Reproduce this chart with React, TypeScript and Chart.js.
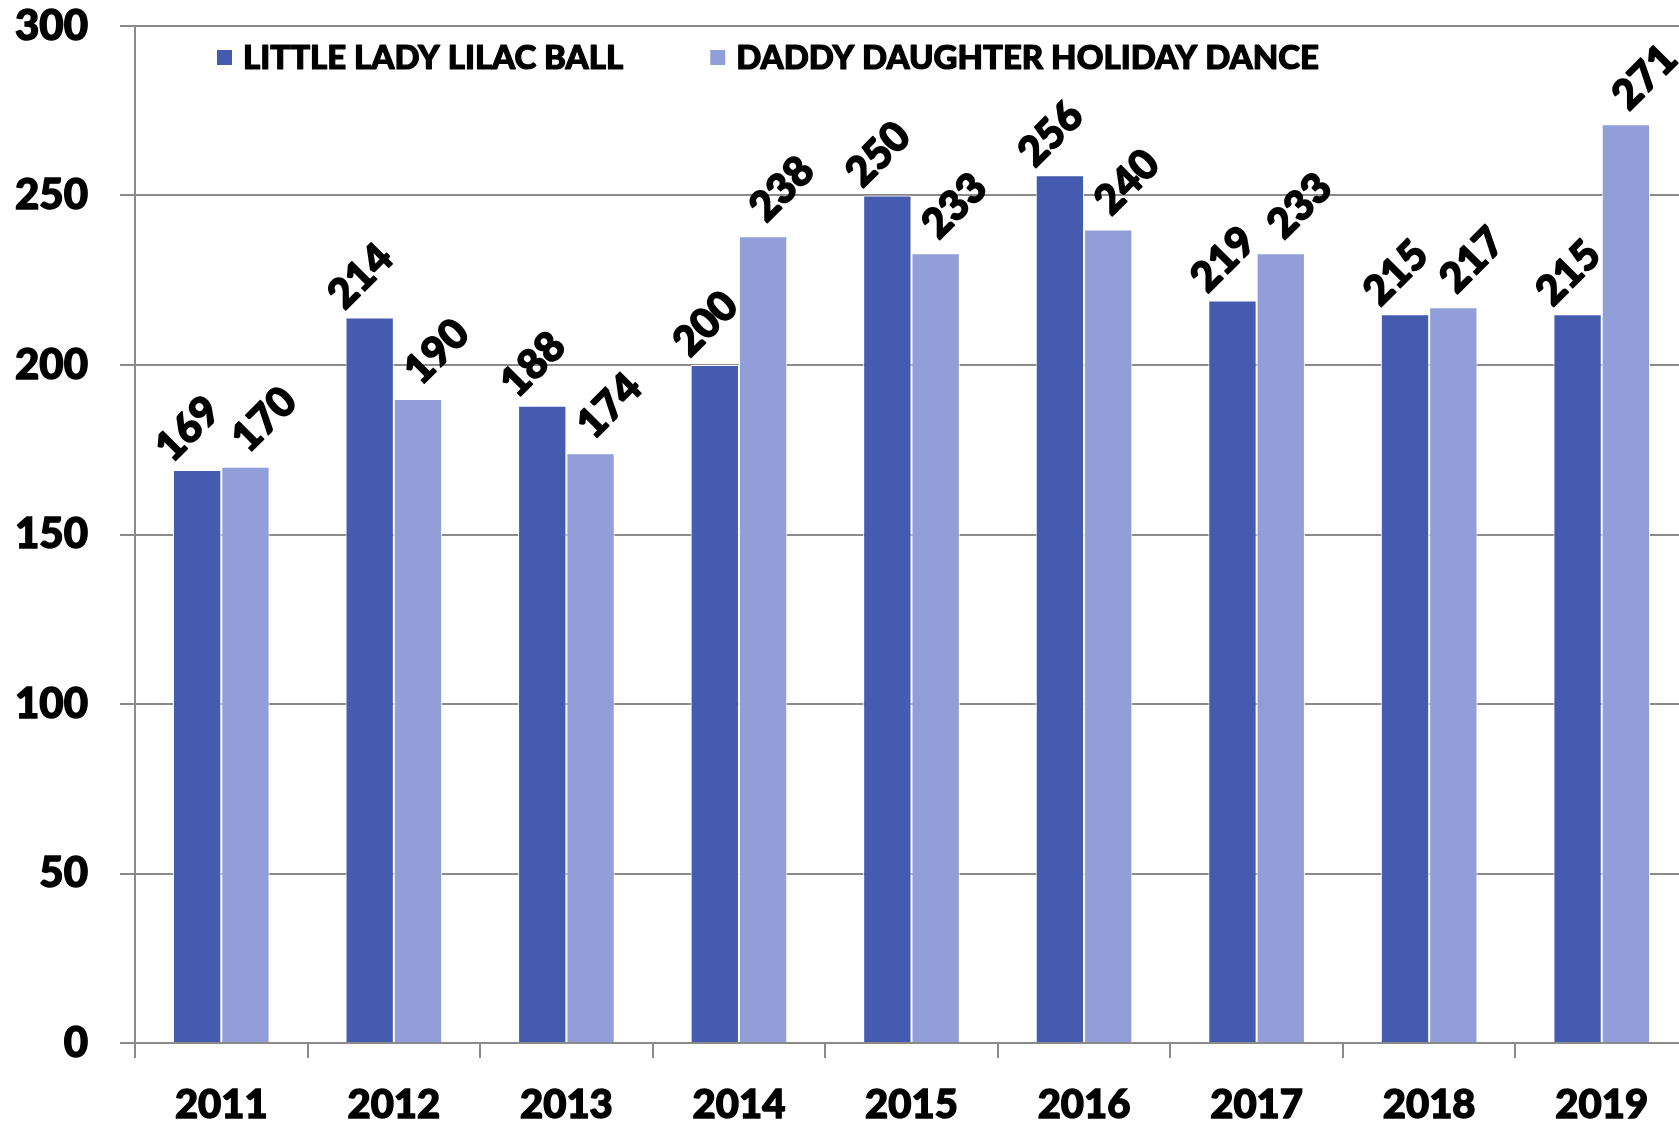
import React, { useEffect, useRef } from "react";
import { Chart, registerables } from "chart.js";

Chart.register(...registerables);

const years = ["2011", "2012", "2013", "2014", "2015", "2016", "2017", "2018", "2019"];
const lilacBall = [169, 214, 188, 200, 250, 256, 219, 215, 215];
const holidayDance = [170, 190, 174, 238, 233, 240, 233, 217, 271];
const seriesNames = ["LITTLE LADY LILAC BALL", "DADDY DAUGHTER HOLIDAY DANCE"];
const yMin = 0;
const yMax = 300;
const yStep = 50;

const DARK = "#455BAF";
const LIGHT = "#929ED8";
const GRID = "#8A8A8A";
const FONT = "Lato, 'Open Sans', sans-serif";

const labelOffsets = [
  { dx: -9, dy: -41 },
  { dx: 19, dy: -47 },
];

const valueLabelPlugin = {
  id: "valueLabels",
  afterDatasetsDraw(chart: any) {
    const ctx = chart.ctx;
    ctx.save();
    ctx.fillStyle = "#000";
    ctx.strokeStyle = "#000";
    ctx.lineWidth = 1.6;
    ctx.lineJoin = "round";
    ctx.font = `900 41px ${FONT}`;
    ctx.textAlign = "center";
    ctx.textBaseline = "middle";
    chart.data.datasets.forEach((ds: any, di: number) => {
      const meta = chart.getDatasetMeta(di);
      const off = labelOffsets[di] || { dx: 0, dy: -40 };
      meta.data.forEach((bar: any, i: number) => {
        const v = ds.data[i];
        ctx.save();
        ctx.translate(bar.x + off.dx, bar.y + off.dy);
        ctx.rotate(-Math.PI / 4);
        ctx.fillText(String(v), 0, 0);
        ctx.strokeText(String(v), 0, 0);
        ctx.restore();
      });
    });
    ctx.restore();
  },
};

const legendPlugin = {
  id: "insideLegend",
  afterDraw(chart: any) {
    const ctx = chart.ctx;
    const area = chart.chartArea;
    ctx.save();
    ctx.font = `900 33px ${FONT}`;
    ctx.textBaseline = "middle";
    ctx.textAlign = "left";
    ctx.lineWidth = 1.2;
    ctx.lineJoin = "round";
    let x = area.left + 82;
    const boxY = area.top + 24;
    const box = 15;
    chart.data.datasets.forEach((ds: any) => {
      ctx.fillStyle = ds.backgroundColor;
      ctx.fillRect(x, boxY, box, box);
      const tx = x + box + 11;
      ctx.fillStyle = "#000";
      ctx.strokeStyle = "#000";
      ctx.fillText(ds.label, tx, boxY + box / 2 + 1);
      ctx.strokeText(ds.label, tx, boxY + box / 2 + 1);
      x = tx + ctx.measureText(ds.label).width + 87;
    });
    ctx.restore();
  },
};

export default function App() {
  const ref = useRef<HTMLCanvasElement | null>(null);

  useEffect(() => {
    if (!ref.current) return;
    const chart = new Chart(ref.current, {
      type: "bar",
      data: {
        labels: years,
        datasets: [
          {
            label: seriesNames[0],
            data: lilacBall,
            backgroundColor: DARK,
            borderColor: "#FFFFFF",
            borderWidth: 1,
          },
          {
            label: seriesNames[1],
            data: holidayDance,
            backgroundColor: LIGHT,
            borderColor: "#FFFFFF",
            borderWidth: 1,
          },
        ],
      },
      options: {
        responsive: false,
        animation: false,
        devicePixelRatio: 1,
        layout: { padding: { top: 26, right: 2, left: 0, bottom: 0 } },
        datasets: {
          bar: { categoryPercentage: 0.56, barPercentage: 1 },
        },
        plugins: {
          legend: { display: false },
          tooltip: { enabled: false },
        },
        scales: {
          x: {
            grid: {
              display: true,
              drawOnChartArea: false,
              drawTicks: true,
              tickLength: 15,
              color: GRID,
              lineWidth: 2,
              offset: true,
            },
            border: { display: true, color: GRID, width: 2 },
            ticks: {
              color: "#000",
              font: { family: FONT, size: 40, weight: "900" as any },
              textStrokeColor: "#000",
              textStrokeWidth: 1.4,
              padding: 23,
              maxRotation: 0,
            },
            afterFit(scale: any) {
              scale.height = 80;
              scale.paddingLeft = 0;
              scale.paddingRight = 0;
            },
          },
          y: {
            min: yMin,
            max: yMax,
            grid: {
              color: GRID,
              lineWidth: 2,
              drawTicks: true,
              tickLength: 15,
            },
            border: { display: true, color: GRID, width: 2 },
            ticks: {
              stepSize: yStep,
              color: "#000",
              font: { family: FONT, size: 42, weight: "900" as any },
              textStrokeColor: "#000",
              textStrokeWidth: 1.4,
              padding: 32,
            },
            afterFit(scale: any) {
              scale.width = 135;
              scale.paddingTop = 0;
              scale.paddingBottom = 0;
            },
          },
        },
      },
      plugins: [valueLabelPlugin, legendPlugin],
    });
    return () => chart.destroy();
  }, []);

  return (
    <div
      style={{
        position: "fixed",
        left: 0,
        top: 0,
        width: 1690,
        height: 1123,
        overflow: "hidden",
        background: "#fff",
      }}
    >
      <canvas ref={ref} width={1690} height={1123} style={{ display: "block" }} />
    </div>
  );
}
